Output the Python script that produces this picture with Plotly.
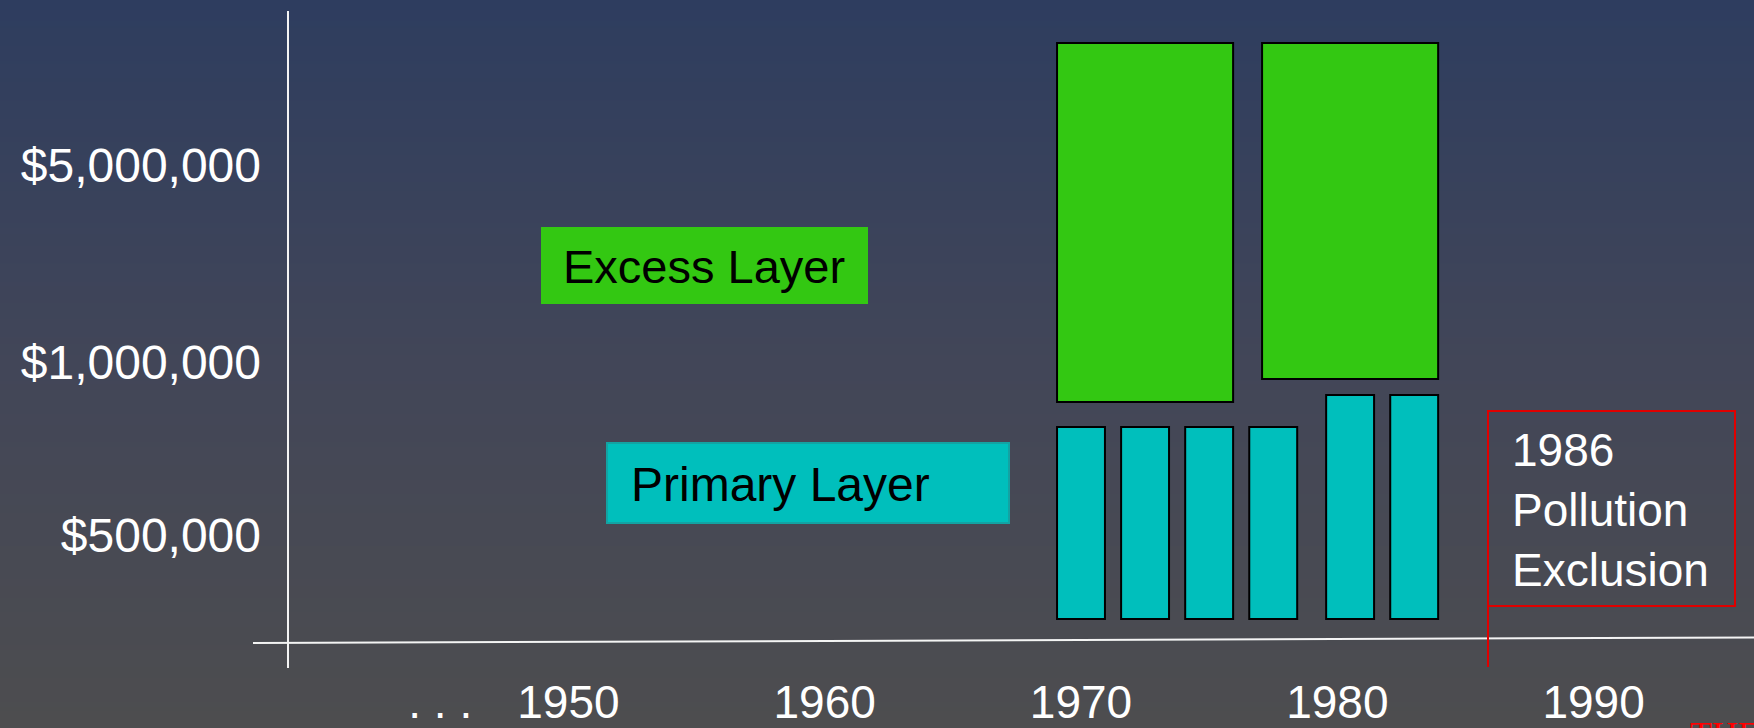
import base64
import struct
import zlib

import plotly.graph_objects as go

# ---------------- data ----------------
primary_years = [1970, 1972.5, 1975, 1977.5, 1980.5, 1983]
primary_base = [0.21, 0.21, 0.21, 0.21, 0.21, 0.21]
primary_top = [2.13, 2.13, 2.13, 2.13, 2.45, 2.45]

excess_years = [1972.5, 1980.5]
excess_base = [2.38, 2.61]
excess_top = [5.97, 5.97]

x_tick_vals = [1945, 1950, 1960, 1970, 1980, 1990]
x_tick_text = [". . .", "1950", "1960", "1970", "1980", "1990"]

y_tick_vals = [1.05, 2.78, 4.75]
y_tick_text = ["$500,000", "$1,000,000", "$5,000,000"]

labels = ["Excess Layer", "Primary Layer", "1986<br>Pollution<br>Exclusion"]

# ---------------- figure geometry ----------------
W, H = 1754, 728
ML, MR, MT, MB = 288, 0, 0, 88
PW, PH = W - ML - MR, H - MT - MB
PX_PER_YEAR = 25.63
YEAR_AT_1081 = 1970
x_lo = YEAR_AT_1081 - (1081 - ML) / PX_PER_YEAR
x_hi = x_lo + PW / PX_PER_YEAR
Y_RANGE = [0, 6.4]


def xp(px):
    return (px - ML) / PW


def yp(py):
    return (MT + PH - py) / PH


FONT = "Arial, Liberation Sans, sans-serif"


def gradient_png(h, stops):
    rows = bytearray()
    w = 4
    for i in range(h):
        t = i / (h - 1)
        for k in range(len(stops) - 1):
            t0, c0 = stops[k]
            t1, c1 = stops[k + 1]
            if t0 <= t <= t1:
                f = (t - t0) / (t1 - t0)
                c = [round(c0[j] + (c1[j] - c0[j]) * f) for j in range(3)]
                break
        rows.append(0)
        rows.extend(bytes(c) * w)

    def chunk(tag, data):
        return (struct.pack(">I", len(data)) + tag + data +
                struct.pack(">I", zlib.crc32(tag + data) & 0xFFFFFFFF))

    png = b"\x89PNG\r\n\x1a\n"
    png += chunk(b"IHDR", struct.pack(">IIBBBBB", w, h, 8, 2, 0, 0, 0))
    png += chunk(b"IDAT", zlib.compress(bytes(rows), 9))
    png += chunk(b"IEND", b"")
    return "data:image/png;base64," + base64.b64encode(png).decode()


bg = gradient_png(H, [(0.0, (46, 61, 95)), (0.5, (66, 70, 88)), (1.0, (77, 77, 79))])

fig = go.Figure()

fig.add_trace(go.Bar(
    x=primary_years,
    y=[t - b for t, b in zip(primary_top, primary_base)],
    base=primary_base,
    width=[1.87] * len(primary_years),
    marker=dict(color="#00bfbc", line=dict(color="#000000", width=2)),
    name="Primary Layer",
    hoverinfo="skip",
))
fig.add_trace(go.Bar(
    x=excess_years,
    y=[t - b for t, b in zip(excess_top, excess_base)],
    base=excess_base,
    width=[6.87] * len(excess_years),
    marker=dict(color="#33c812", line=dict(color="#000000", width=2)),
    name="Excess Layer",
    hoverinfo="skip",
))

shapes = [
    # y axis line
    dict(type="line", xref="paper", yref="paper", x0=xp(288), x1=xp(288),
         y0=yp(11), y1=yp(668), line=dict(color="#f4f4f4", width=2)),
    # x axis line (slightly tilted as in the slide)
    dict(type="line", xref="paper", yref="paper", x0=xp(253), x1=xp(1754),
         y0=yp(643), y1=yp(637.5), line=dict(color="#f4f4f4", width=2)),
    # Excess layer label box
    dict(type="rect", xref="paper", yref="paper", x0=xp(541), x1=xp(868),
         y0=yp(304), y1=yp(227), fillcolor="#33c812", line=dict(width=0)),
    # Primary layer label box
    dict(type="rect", xref="paper", yref="paper", x0=xp(607), x1=xp(1009),
         y0=yp(523), y1=yp(443), fillcolor="#00bfbc",
         line=dict(color="#13a3a3", width=2)),
    # 1986 Pollution exclusion marker
    dict(type="rect", xref="paper", yref="paper", x0=xp(1488), x1=xp(1735),
         y0=yp(606), y1=yp(411), line=dict(color="#e00000", width=2)),
    dict(type="line", xref="paper", yref="paper", x0=xp(1488), x1=xp(1488),
         y0=yp(606), y1=yp(667), line=dict(color="#e00000", width=2)),
]

annotations = [
    dict(text=labels[0], xref="paper", yref="paper", x=xp(561), y=yp(266),
         xanchor="left", yanchor="middle", showarrow=False,
         font=dict(family=FONT, size=47, color="#000000")),
    dict(text=labels[1], xref="paper", yref="paper", x=xp(629), y=yp(484),
         xanchor="left", yanchor="middle", showarrow=False,
         font=dict(family=FONT, size=48, color="#000000")),
    dict(text=labels[2], xref="paper", yref="paper", x=xp(1510), y=yp(510),
         xanchor="left", yanchor="middle", align="left", showarrow=False,
         font=dict(family=FONT, size=46, color="#ffffff")),
    dict(text="THE", xref="paper", yref="paper", x=xp(1688), y=yp(713),
         xanchor="left", yanchor="top", showarrow=False,
         font=dict(family="Liberation Serif, Times New Roman, serif", size=36,
                   color="#ff0000"), ),
]

fig.update_layout(
    width=W, height=H,
    margin=dict(l=ML, r=MR, t=MT, b=MB, pad=0),
    paper_bgcolor="#45474f",
    plot_bgcolor="rgba(0,0,0,0)",
    barmode="overlay",
    showlegend=False,
    shapes=shapes,
    annotations=annotations,
    images=[dict(source=bg, xref="paper", yref="paper", x=xp(0), y=yp(0),
                 sizex=W / PW, sizey=H / PH, xanchor="left", yanchor="top",
                 sizing="stretch", layer="below")],
    xaxis=dict(range=[x_lo, x_hi], tickvals=x_tick_vals, ticktext=x_tick_text,
               showgrid=False, zeroline=False, showline=False, ticks="",
               ticklabelstandoff=31,
               tickfont=dict(family=FONT, size=46, color="#ffffff"),
               fixedrange=True),
    yaxis=dict(range=Y_RANGE, tickvals=y_tick_vals, ticktext=y_tick_text,
               showgrid=False, zeroline=False, showline=False, ticks="",
               ticklabelstandoff=26,
               tickfont=dict(family=FONT, size=48, color="#ffffff"),
               fixedrange=True),
)

fig.write_html(
    "out.html",
    config=dict(displayModeBar=False),
    post_script="document.body.style.margin='0';document.body.style.padding='0';"
                "document.documentElement.style.margin='0';"
                "document.body.style.overflow='hidden';",
)
